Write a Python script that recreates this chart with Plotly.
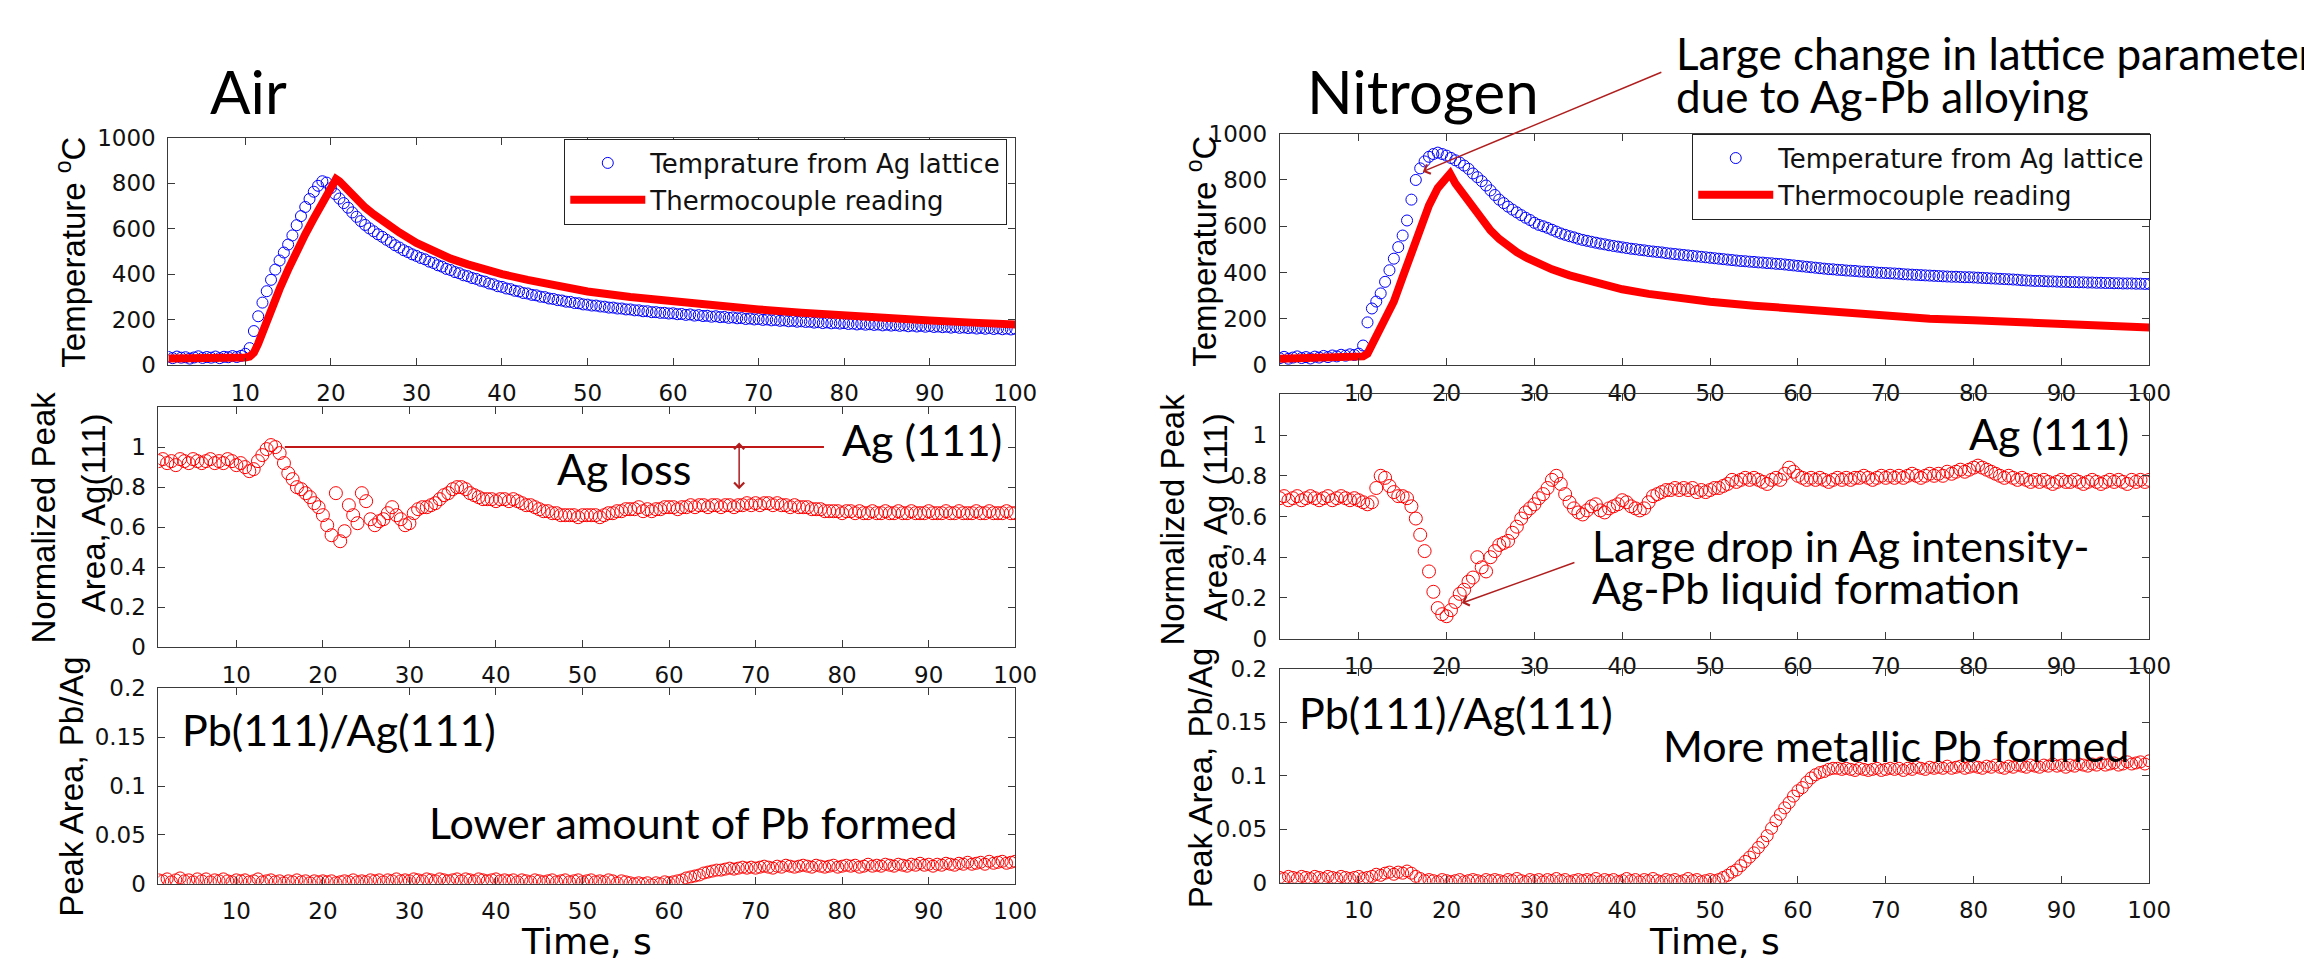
import plotly.graph_objects as go

# ---------------------------------------------------------------------------
# Sampling clock of the in-situ XRD runs (s): 1.0, 1.5, ... 100.0
T_START, T_STEP, N_SAMPLES = 1.0, 0.5, 199
time_s = [round(T_START + i * T_STEP, 1) for i in range(N_SAMPLES)]

# ---- Air run -------------------------------------------------------------
air_lattice_temp = [
    36, 31, 38, 33, 35, 29, 34, 39, 32, 36,
    33, 38, 31, 37, 35, 40, 36, 41, 50, 75,
    150, 215, 275, 325, 375, 420, 460, 495, 530, 570,
    615, 655, 695, 730, 762, 788, 808, 802, 778, 752,
    732, 712, 692, 671, 652, 633, 616, 601, 588, 575,
    564, 551, 540, 527, 517, 505, 497, 487, 480, 471,
    465, 455, 449, 439, 433, 423, 418, 409, 404, 395,
    391, 383, 379, 371, 367, 359, 355, 347, 344, 337,
    334, 327, 324, 317, 315, 309, 307, 301, 299, 293,
    291, 286, 284, 279, 278, 273, 272, 267, 266, 262,
    262, 258, 257, 253, 253, 249, 249, 245, 245, 241,
    241, 237, 237, 233, 233, 230, 230, 227, 228, 224,
    225, 221, 223, 218, 220, 216, 217, 213, 215, 211,
    212, 208, 210, 206, 207, 203, 205, 201, 203, 199,
    201, 197, 199, 195, 197, 193, 195, 191, 193, 190,
    191, 187, 189, 185, 188, 184, 186, 183, 185, 181,
    183, 179, 182, 178, 180, 177, 179, 175, 178, 174,
    176, 173, 175, 171, 174, 170, 173, 169, 172, 168,
    170, 167, 169, 165, 168, 164, 166, 163, 165, 161,
    164, 160, 163, 159, 162, 158, 161, 157, 160,
]

air_tc_time = [1, 3, 5, 7, 9, 10, 10.5, 11, 11.5, 12, 13, 14, 15, 16, 17, 18, 19,
               20, 20.6, 21, 22, 23, 24, 25, 26, 27, 28, 30, 32, 34, 36, 38, 40,
               43, 46, 50, 55, 60, 65, 70, 75, 80, 85, 90, 95, 100]
air_tc_temp = [30, 29, 31, 30, 32, 34, 38, 55, 95, 145, 240, 335, 420, 505, 575,
               645, 715, 785, 818, 808, 768, 728, 693, 663, 635, 608, 583, 537,
               500, 468, 443, 420, 400, 375, 352, 324, 300, 280, 262, 245, 230,
               217, 206, 196, 187, 179]

air_ag111 = [
    .93, .94, .92, .93, .91, .94, .93, .92, .94, .93,
    .92, .93, .94, .92, .93, .92, .94, .93, .91, .92,
    .90, .88, .89, .93, .96, .99, 1.01, 1.00, .97, .92,
    .87, .84, .80, .79, .77, .75, .72, .70, .66, .61,
    .56, .77, .53, .58, .71, .66, .62, .77, .73, .64,
    .61, .63, .64, .67, .70, .66, .64, .61, .62, .67,
    .69, .70, .70, .71, .72, .74, .76, .77, .79, .80,
    .80, .79, .77, .76, .75, .74, .74, .74, .73, .74,
    .74, .73, .74, .73, .72, .71, .71, .70, .69, .68,
    .68, .67, .67, .66, .66, .66, .66, .65, .66, .66,
    .66, .66, .65, .66, .67, .67, .68, .68, .69, .69,
    .69, .70, .68, .69, .68, .69, .69, .70, .70, .70,
    .69, .70, .70, .71, .70, .71, .71, .70, .71, .71,
    .70, .71, .71, .70, .71, .71, .72, .71, .72, .71,
    .72, .72, .71, .72, .71, .71, .70, .71, .70, .70,
    .70, .69, .69, .69, .68, .68, .68, .68, .67, .68,
    .68, .67, .68, .67, .67, .68, .67, .67, .68, .67,
    .67, .68, .67, .67, .68, .67, .67, .67, .68, .67,
    .67, .67, .68, .67, .67, .68, .67, .67, .67, .68,
    .67, .67, .68, .67, .67, .67, .68, .67, .67,
]

air_pb_ag = [
    .004, .003, .005, .002, .004, .006, .003, .004, .002, .005,
    .003, .005, .002, .004, .003, .005, .003, .002, .004, .003,
    .004, .002, .003, .005, .002, .003, .004, .002, .003, .001,
    .003, .002, .004, .002, .003, .001, .003, .002, .003, .002,
    .003, .001, .002, .003, .002, .004, .002, .003, .002, .004,
    .003, .004, .002, .004, .003, .005, .003, .004, .003, .005,
    .004, .003, .005, .004, .003, .005, .004, .003, .004, .005,
    .003, .005, .004, .003, .005, .004, .003, .004, .005, .003,
    .004, .003, .004, .002, .004, .003, .002, .004, .003, .002,
    .003, .004, .002, .003, .004, .002, .003, .004, .002, .003,
    .004, .002, .003, .002, .004, .003, .001, .003, .002, .001,
    .000, .001, .000, .001, -.001, .001, .000, .002, .001, .002,
    .003, .004, .006, .007, .008, .009, .011, .012, .013, .014,
    .014, .015, .016, .015, .016, .017, .016, .017, .016, .017,
    .018, .017, .016, .018, .017, .019, .018, .017, .018, .019,
    .018, .017, .019, .018, .017, .018, .019, .017, .018, .019,
    .018, .019, .017, .018, .020, .018, .019, .018, .020, .019,
    .018, .020, .019, .018, .020, .019, .021, .019, .020, .018,
    .020, .019, .021, .020, .019, .021, .020, .022, .020, .021,
    .022, .020, .023, .021, .022, .023, .021, .022, .023,
]

# ---- Nitrogen run --------------------------------------------------------
n2_lattice_temp = [
    30, 36, 28, 33, 38, 31, 35, 29, 37, 33,
    40, 35, 42, 38, 45, 41, 47, 44, 50, 85,
    185, 245, 275, 310, 360, 410, 460, 510, 560, 625,
    715, 800, 850, 880, 900, 912, 918, 912, 905, 895,
    885, 875, 862, 848, 828, 812, 795, 776, 755, 735,
    715, 700, 685, 672, 660, 648, 637, 627, 615, 606,
    600, 593, 585, 577, 569, 563, 557, 552, 546, 541,
    537, 533, 529, 525, 522, 518, 515, 512, 509, 506,
    503, 501, 498, 496, 493, 491, 489, 487, 484, 482,
    480, 478, 476, 474, 472, 470, 468, 466, 464, 462,
    460, 458, 456, 454, 452, 450, 449, 447, 446, 444,
    443, 441, 440, 438, 437, 435, 433, 431, 429, 427,
    425, 423, 421, 419, 417, 415, 414, 412, 411, 409,
    408, 407, 405, 404, 403, 402, 400, 399, 398, 397,
    396, 395, 393, 392, 391, 390, 389, 388, 387, 386,
    385, 384, 383, 382, 382, 381, 380, 380, 379, 378,
    377, 376, 375, 374, 373, 372, 371, 370, 369, 367,
    366, 365, 364, 364, 363, 362, 362, 361, 360, 360,
    359, 359, 358, 358, 357, 357, 356, 356, 355, 355,
    354, 354, 353, 353, 353, 352, 352, 351, 351,
]

n2_tc_time = [1, 3, 5, 7, 9, 10, 10.5, 11, 11.5, 12, 13, 14, 15, 16, 17, 18, 19,
              20, 20.4, 21, 22, 23, 24, 25, 26, 27, 28, 29, 30, 32, 34, 36, 38,
              40, 43, 46, 50, 55, 60, 65, 70, 75, 80, 85, 90, 95, 100]
n2_tc_temp = [28, 29, 30, 31, 33, 35, 38, 50, 85, 120, 200, 275, 380, 490, 595,
              690, 765, 812, 827, 785, 732, 682, 632, 582, 545, 513, 488, 466,
              447, 414, 388, 365, 345, 328, 308, 291, 274, 257, 242, 227, 211,
              201, 194, 185, 174, 167, 163]

n2_ag111 = [
    .69, .70, .68, .69, .70, .68, .69, .70, .69, .68,
    .69, .70, .68, .69, .70, .69, .68, .69, .68, .67,
    .66, .67, .74, .80, .79, .75, .72, .70, .70, .69,
    .65, .59, .51, .43, .33, .23, .15, .12, .11, .14,
    .18, .22, .24, .28, .30, .40, .35, .33, .40, .43,
    .46, .47, .48, .52, .55, .59, .62, .64, .66, .69,
    .71, .74, .78, .80, .76, .71, .67, .64, .62, .61,
    .63, .65, .66, .63, .62, .64, .65, .66, .68, .67,
    .65, .64, .63, .64, .67, .70, .71, .72, .73, .73,
    .74, .73, .74, .73, .74, .72, .73, .72, .73, .74,
    .74, .75, .76, .78, .77, .78, .79, .78, .79, .78,
    .77, .76, .78, .79, .78, .81, .84, .82, .80, .79,
    .78, .79, .78, .79, .78, .77, .78, .79, .78, .79,
    .78, .79, .79, .80, .79, .78, .79, .80, .79, .80,
    .79, .80, .79, .80, .81, .80, .79, .80, .81, .80,
    .81, .80, .82, .81, .82, .83, .82, .83, .84, .85,
    .84, .83, .82, .81, .80, .79, .80, .79, .78, .79,
    .78, .77, .78, .77, .78, .77, .76, .77, .78, .77,
    .77, .78, .77, .76, .77, .78, .77, .76, .77, .78,
    .77, .78, .77, .76, .78, .77, .78, .77, .78,
]

n2_pb_ag = [
    .005, .004, .006, .005, .004, .006, .005, .004, .006, .005,
    .004, .006, .005, .004, .006, .005, .004, .005, .006, .004,
    .005, .006, .008, .007, .009, .010, .008, .010, .009, .011,
    .009, .006, .004, .002, .003, .002, .001, .003, .002, .001,
    .002, .003, .001, .002, .003, .002, .001, .003, .002, .003,
    .002, .001, .003, .002, .004, .002, .001, .003, .002, .003,
    .001, .003, .002, .004, .002, .003, .001, .002, .003, .002,
    .003, .002, .004, .001, .003, .002, .003, .001, .002, .004,
    .002, .003, .001, .003, .002, .004, .002, .001, .003, .002,
    .003, .001, .002, .004, .002, .003, .001, .002, .003, .002,
    .003, .005, .007, .010, .012, .016, .020, .024, .028, .033,
    .038, .044, .051, .058, .064, .070, .075, .081, .086, .089,
    .094, .098, .101, .103, .104, .106, .107, .107, .106, .107,
    .106, .105, .107, .106, .105, .106, .107, .105, .106, .107,
    .106, .107, .105, .107, .106, .108, .107, .106, .108, .107,
    .108, .107, .109, .107, .108, .109, .107, .108, .109, .108,
    .107, .109, .108, .110, .108, .107, .109, .108, .110, .109,
    .108, .110, .109, .108, .110, .109, .111, .109, .110, .108,
    .110, .109, .111, .110, .109, .111, .110, .112, .110, .111,
    .112, .110, .111, .113, .111, .112, .113, .111, .114,
]

time_ticks = [10, 20, 30, 40, 50, 60, 70, 80, 90, 100]
temp_ticks = [0, 200, 400, 600, 800, 1000]
area_ticks = [0, 0.2, 0.4, 0.6, 0.8, 1]
area_tick_text = ["0", "0.2", "0.4", "0.6", "0.8", "1"]
ratio_ticks = [0, 0.05, 0.1, 0.15, 0.2]
ratio_tick_text = ["0", "0.05", "0.1", "0.15", "0.2"]

# ---------------------------------------------------------------------------
W, H = 2304, 961


def fx(px):
    return px / W


def fy(py):
    return 1 - py / H


# panel frames in page pixels: (left, right, top, bottom)
panels = {
    1: (170, 1025, 128, 362),   # air temperature
    2: (160, 1025, 405, 652),   # air Ag(111)
    3: (160, 1025, 694, 895),   # air Pb/Ag
    4: (1292, 2170, 124, 362),  # nitrogen temperature
    5: (1292, 2170, 392, 643),  # nitrogen Ag(111)
    6: (1292, 2170, 674, 894),  # nitrogen Pb/Ag
}

AX = "#3a3a3a"
TICK_FONT = dict(family="DejaVu Sans", size=23, color="#111")
MATLAB_FONT = "Liberation Sans"
TITLE_SIZE = 33
NOTE_FONT = "Lato"
NOTE_SIZE = 43
RED = "#ff0000"
BLUE = "#0000ff"
ARROW_RED = "#b01e1e"

fig = go.Figure()


def ax_name(i, kind):
    return kind if i == 1 else f"{kind}{i}"


def add_markers(i, y, color, size, name=None, legend=None):
    fig.add_trace(go.Scatter(
        x=time_s, y=y, mode="markers",
        marker=dict(symbol="circle-open", size=size, color=color,
                    line=dict(width=1, color=color)),
        name=name or "", showlegend=name is not None,
        legend=legend, xaxis=ax_name(i, "x"), yaxis=ax_name(i, "y"),
        hoverinfo="skip"))


def add_line(i, t, y, name, legend):
    fig.add_trace(go.Scatter(
        x=t, y=y, mode="lines", line=dict(color=RED, width=8),
        name=name, legend=legend, xaxis=ax_name(i, "x"),
        yaxis=ax_name(i, "y"), hoverinfo="skip"))


add_markers(1, air_lattice_temp, BLUE, 11, "Temprature from Ag lattice", "legend")
add_line(1, air_tc_time, air_tc_temp, "Thermocouple reading", "legend")
add_markers(2, air_ag111, RED, 13)
add_markers(3, air_pb_ag, RED, 12)
add_markers(4, n2_lattice_temp, BLUE, 11, "Temperature from Ag lattice", "legend2")
add_line(4, n2_tc_time, n2_tc_temp, "Thermocouple reading", "legend2")
add_markers(5, n2_ag111, RED, 13)
add_markers(6, n2_pb_ag, RED, 12)

layout = dict(
    width=W, height=H, margin=dict(l=0, r=0, t=0, b=0),
    paper_bgcolor="white", plot_bgcolor="white",
    font=dict(family=MATLAB_FONT, color="#111"),
)

y_specs = {
    1: dict(range=[0, 1000], tickvals=temp_ticks),
    2: dict(range=[0, 1.2], tickvals=area_ticks, ticktext=area_tick_text),
    3: dict(range=[0, 0.2], tickvals=ratio_ticks, ticktext=ratio_tick_text),
    4: dict(range=[0, 1000], tickvals=temp_ticks),
    5: dict(range=[0, 1.2], tickvals=area_ticks, ticktext=area_tick_text),
    6: dict(range=[0, 0.2], tickvals=ratio_ticks, ticktext=ratio_tick_text),
}

common = dict(showline=True, linecolor=AX, linewidth=1, mirror="ticks",
              ticks="inside", ticklen=7, tickwidth=1, tickcolor=AX,
              showgrid=False, zeroline=False, tickfont=TICK_FONT,
              ticklabelstandoff=7)

for i, (l, r, t, b) in panels.items():
    xa = ax_name(i, "xaxis")
    ya = ax_name(i, "yaxis")
    layout[xa] = dict(common, domain=[fx(l), fx(r)], range=[1, 100],
                      tickvals=time_ticks, anchor=ax_name(i, "y"))
    layout[ya] = dict(common, domain=[fy(b), fy(t)], anchor=ax_name(i, "x"),
                      **y_specs[i])

legend_style = dict(bgcolor="white", bordercolor="#222", borderwidth=1,
                    font=dict(family="DejaVu Sans", size=26, color="#111"),
                    itemwidth=75, tracegroupgap=0, xanchor="right",
                    yanchor="top")
layout["legend"] = dict(legend_style, x=fx(1017), y=fy(129))
layout["legend2"] = dict(legend_style, x=fx(2172), y=fy(124))

fig.update_layout(**layout)

annotations = []


def text_at(px, py, text, family, size, xanchor="center", angle=0):
    annotations.append(dict(
        x=fx(px), y=fy(py), xref="paper", yref="paper", text=text,
        showarrow=False, xanchor=xanchor, yanchor="middle", textangle=angle,
        font=dict(family=family, size=size, color="black")))


# axis titles
text_at(72, 246, "Temperature <sup>o</sup>C", MATLAB_FONT, TITLE_SIZE, angle=-90)
text_at(44, 519, "Normalized Peak", MATLAB_FONT, TITLE_SIZE, angle=-90)
text_at(94, 514, "Area, Ag(111)", MATLAB_FONT, TITLE_SIZE, angle=-90)
text_at(72, 795, "Peak Area, Pb/Ag", MATLAB_FONT, TITLE_SIZE, angle=-90)
text_at(1214, 245, "Temperature <sup>o</sup>C", MATLAB_FONT, TITLE_SIZE, angle=-90)
text_at(1184, 521, "Normalized Peak", MATLAB_FONT, TITLE_SIZE, angle=-90)
text_at(1228, 518, "Area, Ag (111)", MATLAB_FONT, TITLE_SIZE, angle=-90)
text_at(1212, 786, "Peak Area, Pb/Ag", MATLAB_FONT, TITLE_SIZE, angle=-90)
text_at(592, 954, "Time, s", "DejaVu Sans", 36)
text_at(1731, 954, "Time, s", "DejaVu Sans", 36)

# panel headings
text_at(251, 80, "Air", NOTE_FONT, 60)
text_at(1318, 80, "Nitrogen", NOTE_FONT, 60, xanchor="left")

# callouts
text_at(1014, 438, "Ag (111)", NOTE_FONT, NOTE_SIZE, xanchor="right")
text_at(630, 468, "Ag loss", NOTE_FONT, NOTE_SIZE)
text_at(182, 736, "Pb(111)/Ag(111)", NOTE_FONT, NOTE_SIZE, xanchor="left")
text_at(700, 832, "Lower amount of Pb formed", NOTE_FONT, NOTE_SIZE)
text_at(1690, 41, "Large change in lattice parameter", NOTE_FONT, 44, xanchor="left")
text_at(1690, 85, "due to Ag-Pb alloying", NOTE_FONT, 44, xanchor="left")
text_at(1605, 547, "Large drop in Ag intensity-", NOTE_FONT, NOTE_SIZE, xanchor="left")
text_at(1605, 590, "Ag-Pb liquid formation", NOTE_FONT, NOTE_SIZE, xanchor="left")
text_at(2152, 432, "Ag (111)", NOTE_FONT, NOTE_SIZE, xanchor="right")
text_at(1309, 719, "Pb(111)/Ag(111)", NOTE_FONT, NOTE_SIZE, xanchor="left")
text_at(1677, 753, "More metallic Pb formed", NOTE_FONT, NOTE_SIZE, xanchor="left")

# Ag-loss double arrow between the initial level and the plateau
annotations.append(dict(
    x=68.1, y=0.79, ax=68.1, ay=1.03, xref="x2", yref="y2", axref="x2",
    ayref="y2", text="", showarrow=True, arrowside="end+start",
    arrowhead=4, startarrowhead=4, arrowsize=1.3, startarrowsize=1.3,
    arrowwidth=1.5, arrowcolor=ARROW_RED))
# pointer to the lattice-temperature overshoot
annotations.append(dict(
    x=17.3, y=836, xref="x4", yref="y4", ax=240, ay=-100, text="",
    showarrow=True, arrowhead=4, arrowsize=1.3, arrowwidth=1.5,
    arrowcolor=ARROW_RED))
# pointer to the intensity minimum
annotations.append(dict(
    x=21.75, y=0.175, xref="x5", yref="y5", ax=114, ay=-41, text="",
    showarrow=True, arrowhead=4, arrowsize=1.3, arrowwidth=1.5,
    arrowcolor=ARROW_RED))

fig.update_layout(annotations=annotations)

# initial Ag(111) level reference line
fig.add_shape(type="line", xref="x2", yref="y2", x0=15.6, x1=77.9, y0=1.0,
              y1=1.0, line=dict(color="#c01818", width=2))

fig.write_html("out.html")
